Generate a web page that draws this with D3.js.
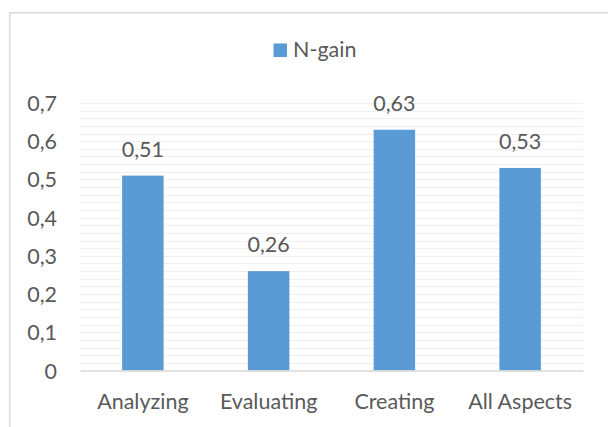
<!DOCTYPE html>
<html>
<head>
<meta charset="utf-8">
<script src="https://cdn.jsdelivr.net/npm/d3@7"></script>
<style>
  html, body { margin: 0; padding: 0; background: #ffffff; }
  svg { display: block; }
  text { font-family: Lato, "Open Sans", sans-serif; fill: #595959; }
</style>
</head>
<body>
<div id="chart"></div>
<script>
// N-gain per thinking aspect
const categories = ["Analyzing", "Evaluating", "Creating", "All Aspects"];
const nGain = [0.51, 0.26, 0.63, 0.53];
const yTicks = [0, 0.1, 0.2, 0.3, 0.4, 0.5, 0.6, 0.7];
const seriesName = "N-gain";

const W = 608, H = 427;
const plot = { left: 80, right: 583, top: 103, bottom: 370.5 };
const barColor = "#5b9bd5";
const fontSize = 21.5;
const fmt = v => String(v).replace(".", ",");

const svg = d3.select("#chart").append("svg")
  .attr("width", W).attr("height", H);

// chart frame
svg.append("rect")
  .attr("x", 9.75).attr("y", 12.75)
  .attr("width", W + 10).attr("height", H + 10)
  .attr("fill", "none").attr("stroke", "#d9d9d9").attr("stroke-width", 1.5);

const x = d3.scaleBand()
  .domain(categories)
  .range([plot.left, plot.right])
  .paddingInner(0.67)
  .paddingOuter(0.335);

const y = d3.scaleLinear()
  .domain([0, 0.7])
  .range([plot.bottom, plot.top]);

// minor + major gridlines every 0.02
const gridVals = d3.range(1, 36).map(i => +(i * 0.02).toFixed(2));
svg.append("g").selectAll("line")
  .data(gridVals)
  .join("line")
  .attr("x1", plot.left).attr("x2", plot.right)
  .attr("y1", d => Math.round(y(d)) + 0.5)
  .attr("y2", d => Math.round(y(d)) + 0.5)
  .attr("stroke", "#efefef").attr("stroke-width", 1.2);

// y axis labels
const yAxis = d3.axisLeft(y).tickValues(yTicks).tickFormat(fmt).tickSize(0).tickPadding(0);
const gy = svg.append("g")
  .attr("transform", `translate(${plot.left - 23},0)`)
  .call(yAxis);
gy.select(".domain").remove();
gy.selectAll("text")
  .attr("font-size", fontSize)
  .attr("font-family", "Lato, sans-serif")
  .attr("fill", "#595959")
  .attr("dy", "0.35em");

// bars
svg.append("g").selectAll("rect")
  .data(categories)
  .join("rect")
  .attr("x", d => x(d))
  .attr("width", x.bandwidth())
  .attr("y", (d, i) => y(nGain[i]))
  .attr("height", (d, i) => y(0) - y(nGain[i]))
  .attr("fill", barColor);

// value labels
svg.append("g").selectAll("text")
  .data(categories)
  .join("text")
  .attr("x", d => x(d) + x.bandwidth() / 2)
  .attr("y", (d, i) => y(nGain[i]) - 19)
  .attr("text-anchor", "middle")
  .attr("font-size", fontSize)
  .text((d, i) => fmt(nGain[i]));

// category axis
const xAxis = d3.axisBottom(x).tickSize(0).tickPadding(0);
const gx = svg.append("g")
  .attr("transform", `translate(0,${plot.bottom})`)
  .call(xAxis);
gx.select(".domain")
  .attr("stroke", "#d9d9d9").attr("stroke-width", 1.5);
gx.selectAll("text")
  .attr("font-size", fontSize)
  .attr("font-family", "Lato, sans-serif")
  .attr("fill", "#595959")
  .attr("dy", 0)
  .attr("y", 38.5);

// legend
const legend = svg.append("g");
legend.append("rect")
  .attr("x", 273.5).attr("y", 43.5)
  .attr("width", 13.5).attr("height", 13.5)
  .attr("fill", barColor);
legend.append("text")
  .attr("x", 293)
  .attr("y", 57)
  .attr("font-size", fontSize)
  .text(seriesName);
</script>
</body>
</html>
